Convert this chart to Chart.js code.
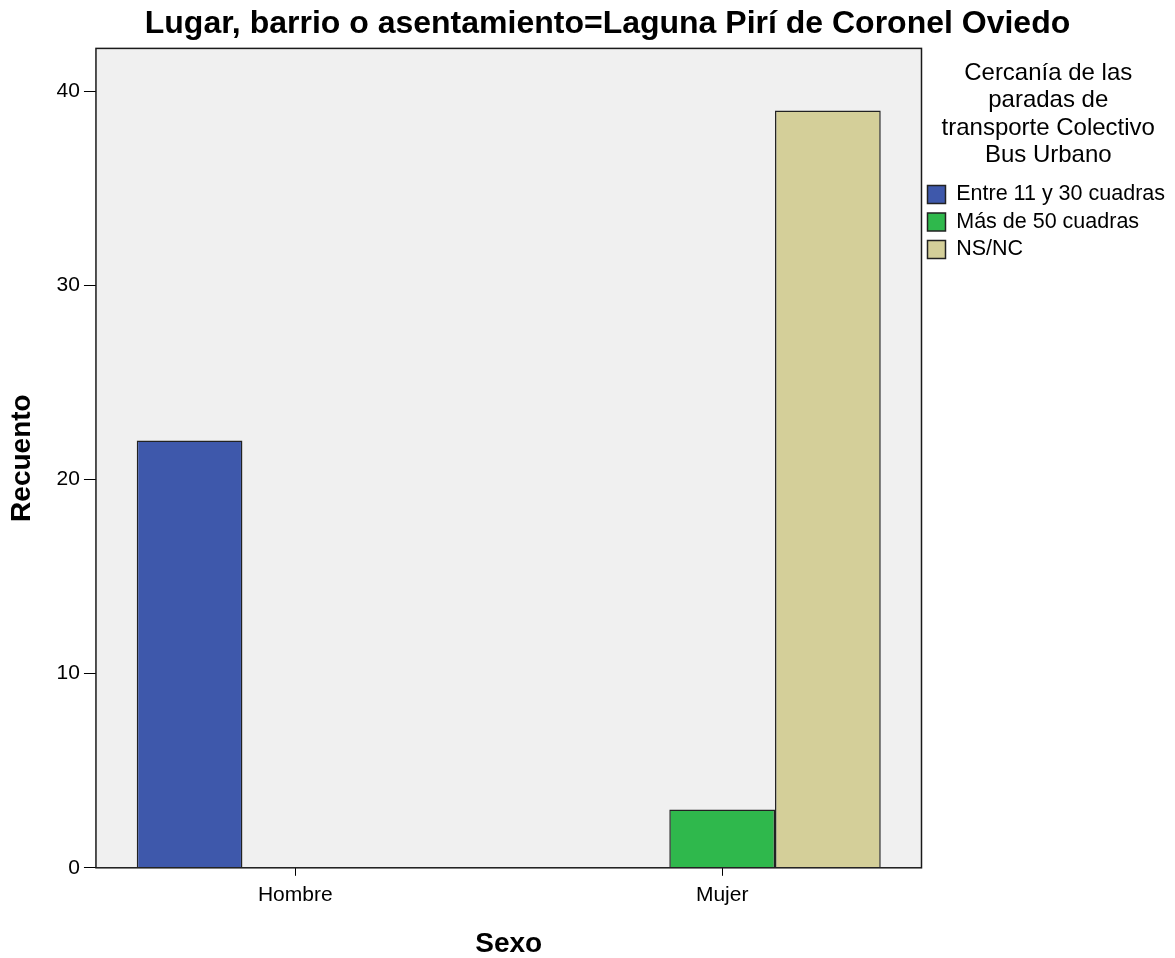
<!DOCTYPE html>
<html><head><meta charset="utf-8">
<script src="https://cdn.jsdelivr.net/npm/chart.js@4.4.0/dist/chart.umd.min.js"></script>
<style>html,body{margin:0;padding:0;background:#fff;}</style>
</head><body>
<canvas id="c" width="1175" height="958"></canvas>
<script>
const chartTitle = 'Lugar, barrio o asentamiento=Laguna Pirí de Coronel Oviedo';
const categories = ['Hombre', 'Mujer'];
const seriesNames = ['Entre 11 y 30 cuadras', 'Más de 50 cuadras', 'NS/NC'];
const entre11y30 = [22, 0];
const masDe50 = [0, 3];
const nsnc = [0, 39];
const yTicks = [0, 10, 20, 30, 40];
const legendTitle = ['Cercanía de las', 'paradas de', 'transporte Colectivo', 'Bus Urbano'];
const xTitle = 'Sexo';
const yTitle = 'Recuento';

const seriesValues = [entre11y30, masDe50, nsnc];
const colors = ['#3e58ab', '#2fb84c', '#d4cf99'];
const FAMILY = '"Liberation Sans", Arial, sans-serif';

const plotFrame = {
  id: 'plotFrame',
  afterLayout(chart) {
    const t = chart.titleBlock;
    if (t) { t.left = 40; t.right = chart.width; }
  },
  beforeDraw(chart) {
    const {ctx, chartArea: a} = chart;
    ctx.save();
    ctx.fillStyle = '#f0f0f0';
    ctx.fillRect(a.left, a.top, a.right - a.left, a.bottom - a.top);
    ctx.restore();
  },
  afterDatasetsDraw(chart) {
    const {ctx, chartArea: a} = chart;
    ctx.save();
    ctx.strokeStyle = '#1a1a1a';
    ctx.lineWidth = 1.5;
    ctx.strokeRect(a.left, a.top, a.right - a.left, a.bottom - a.top);
    ctx.restore();
  }
};

new Chart(document.getElementById('c'), {
  type: 'bar',
  data: {
    datasets: seriesNames.map((name, k) => ({
      label: name,
      data: categories.map((c, i) => ({x: i, y: seriesValues[k][i]})),
      backgroundColor: colors[k],
      borderColor: '#222222',
      borderWidth: 1.5,
      categoryPercentage: 0.743,
      barPercentage: 1
    }))
  },
  options: {
    responsive: false,
    animation: false,
    events: [],
    layout: {padding: {right: 0}},
    plugins: {
      title: {
        display: true, text: chartTitle, color: '#000',
        font: {size: 32, weight: 'bold', family: FAMILY},
        padding: {top: 5, bottom: 5}
      },
      legend: {
        position: 'right', align: 'start', fullSize: false, maxWidth: 255,
        title: {
          display: true, text: legendTitle, color: '#000',
          font: {size: 24, family: FAMILY, lineHeight: 1.14},
          padding: {top: 13, bottom: 89}
        },
        labels: {
          boxWidth: 18, boxHeight: 18, padding: 6, color: '#000',
          font: {size: 21.5, family: FAMILY}
        }
      },
      tooltip: {enabled: false}
    },
    scales: {
      x: {
        type: 'linear', min: -0.467, max: 1.467, offset: false,
        afterBuildTicks: s => { s.ticks = categories.map((c, i) => ({value: i})); },
        ticks: {
          callback: v => categories[v], color: '#000', padding: 7,
          autoSkip: false, maxRotation: 0,
          font: {size: 21, family: FAMILY}
        },
        grid: {drawOnChartArea: false, drawTicks: true, offset: false, tickLength: 8, color: '#000'},
        border: {display: false},
        title: {
          display: true, text: xTitle, color: '#000',
          font: {size: 28, weight: 'bold', family: FAMILY, lineHeight: 1},
          padding: {top: 15, bottom: 0}
        }
      },
      y: {
        min: 0, max: 42.2,
        afterBuildTicks: s => { s.ticks = yTicks.map(v => ({value: v})); },
        ticks: {color: '#000', padding: 4, font: {size: 21, family: FAMILY}},
        grid: {drawOnChartArea: false, drawTicks: true, tickLength: 12, color: '#000'},
        border: {display: false},
        title: {
          display: true, text: yTitle, color: '#000',
          font: {size: 28, weight: 'bold', family: FAMILY},
          padding: {top: 5, bottom: 14}
        }
      }
    }
  },
  plugins: [plotFrame]
});
</script>
</body></html>
